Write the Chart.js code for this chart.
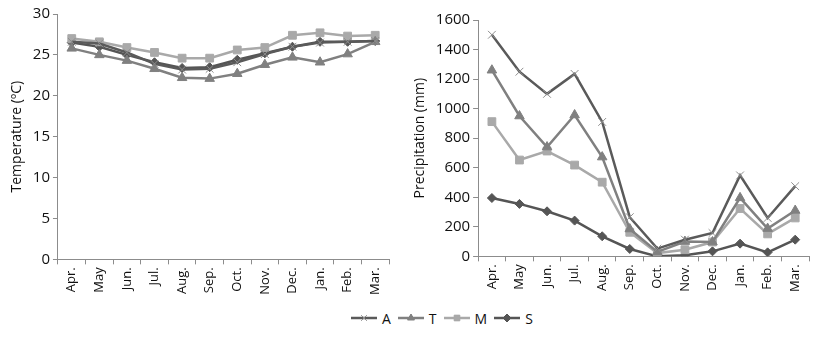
<!DOCTYPE html>
<html>
<head>
<meta charset="utf-8">
<script src="https://cdn.jsdelivr.net/npm/chart.js@4"></script>
<style>
  body { margin: 0; background: #fff; width: 825px; height: 337px; position: relative; overflow: hidden; font-family: "Open Sans", sans-serif; }
  #tempBox { position: absolute; left: 0; top: 0; width: 400px; height: 300px; }
  #rainBox { position: absolute; left: 400px; top: 0; width: 425px; height: 300px; }
  #legend { position: absolute; left: 350px; top: 306px; height: 24px; display: flex; align-items: center; }
  .item { display: flex; align-items: center; margin-right: 6px; font-size: 14px; color: #111; }
  .item canvas { margin-right: 4px; }
</style>
</head>
<body>
<div id="tempBox"><canvas id="tempChart"></canvas></div>
<div id="rainBox"><canvas id="rainChart"></canvas></div>
<div id="legend"></div>
<script>
const months = ['Apr.', 'May', 'Jun.', 'Jul.', 'Aug.', 'Sep.', 'Oct.', 'Nov.', 'Dec.', 'Jan.', 'Feb.', 'Mar.'];
const seriesNames = ['A', 'T', 'M', 'S'];

// monthly mean temperature (ºC)
const tempA = [26.6, 26.4, 25.3, 23.9, 23.2, 23.3, 24.1, 25.1, 26.0, 26.5, 26.6, 26.7];
const tempT = [25.8, 25.0, 24.3, 23.3, 22.2, 22.1, 22.7, 23.8, 24.7, 24.1, 25.1, 26.6];
const tempM = [27.0, 26.6, 25.9, 25.3, 24.6, 24.6, 25.6, 25.9, 27.4, 27.7, 27.3, 27.4];
const tempS = [26.5, 26.0, 25.0, 24.1, 23.4, 23.5, 24.4, 25.2, 26.0, 26.6, 26.6, 26.7];

// monthly precipitation (mm)
const rainA = [1500, 1250, 1100, 1235, 910, 265, 52, 113, 158, 548, 260, 475];
const rainT = [1260, 950, 740, 957, 672, 185, 30, 100, 97, 396, 188, 310];
const rainM = [912, 652, 713, 618, 502, 163, 22, 45, 97, 324, 152, 260];
const rainS = [395, 355, 305, 242, 136, 50, 0, 8, 34, 86, 27, 113];

const tempTicks = { min: 0, max: 30, step: 5 };
const rainTicks = { min: 0, max: 1600, step: 200 };

const looks = {
  A: { color: '#5a5a5a', marker: '#8e8e8e', pointStyle: 'crossRot', radius: 5.5 },
  T: { color: '#808080', marker: '#808080', pointStyle: 'triangle', radius: 5.5 },
  M: { color: '#a9a9a9', marker: '#a9a9a9', pointStyle: 'rect', radius: 5.5 },
  S: { color: '#555555', marker: '#555555', pointStyle: 'rectRot', radius: 4.5 }
};

function makeSets(values) {
  return seriesNames.map((name, i) => ({
    label: name,
    data: values[i],
    borderColor: looks[name].color,
    backgroundColor: looks[name].marker,
    pointBorderColor: looks[name].marker,
    pointStyle: looks[name].pointStyle,
    pointRadius: looks[name].radius,
    pointBorderWidth: 1,
    borderWidth: 2.5,
    tension: 0
  }));
}

function axisOptions(title, ticks) {
  return {
    x: {
      offset: true,
      grid: { display: true, drawOnChartArea: false, offset: true, color: '#8c8c8c', tickLength: 5 },
      border: { color: '#8c8c8c', width: 1 },
      ticks: { color: '#111', font: { family: 'Open Sans', size: 13 }, minRotation: 90, maxRotation: 90, padding: 3 }
    },
    y: {
      min: ticks.min,
      max: ticks.max,
      grid: { display: true, drawOnChartArea: false, color: '#8c8c8c', tickLength: 5 },
      border: { color: '#8c8c8c', width: 1 },
      ticks: {
        stepSize: ticks.step, color: '#111', font: { family: 'Open Sans', size: 15 }, padding: 3,
        callback: v => String(v)
      },
      title: { display: true, text: title, color: '#111', font: { family: 'Open Sans', size: 14 }, padding: { bottom: 4 } }
    }
  };
}

function makeChart(id, values, title, ticks, pad) {
  return new Chart(document.getElementById(id), {
    type: 'line',
    data: { labels: months, datasets: makeSets(values) },
    options: {
      responsive: true,
      maintainAspectRatio: false,
      animation: false,
      layout: { padding: pad },
      plugins: { legend: { display: false }, tooltip: { enabled: false } },
      scales: axisOptions(title, ticks)
    }
  });
}

makeChart('tempChart', [tempA, tempT, tempM, tempS], 'Temperature (ºC)', tempTicks, { left: 5, top: 14, right: 11, bottom: 2 });
makeChart('rainChart', [rainA, rainT, rainM, rainS], 'Precipitation (mm)', rainTicks, { left: 8, top: 20, right: 16, bottom: 5 });

// shared legend: short line with the series marker, then the name
const legend = document.getElementById('legend');
seriesNames.forEach(name => {
  const item = document.createElement('div');
  item.className = 'item';
  const c = document.createElement('canvas');
  c.width = 28; c.height = 14;
  const ctx = c.getContext('2d');
  ctx.strokeStyle = looks[name].color;
  ctx.lineWidth = 2.5;
  ctx.beginPath(); ctx.moveTo(1, 7); ctx.lineTo(27, 7); ctx.stroke();
  ctx.fillStyle = looks[name].marker;
  ctx.strokeStyle = looks[name].marker;
  ctx.lineWidth = 1;
  Chart.helpers.drawPoint(ctx, { pointStyle: looks[name].pointStyle, radius: 4, borderWidth: 1 }, 14, 7);
  ctx.fill();
  item.appendChild(c);
  const t = document.createElement('span');
  t.textContent = name;
  item.appendChild(t);
  legend.appendChild(item);
});
</script>
</body>
</html>
